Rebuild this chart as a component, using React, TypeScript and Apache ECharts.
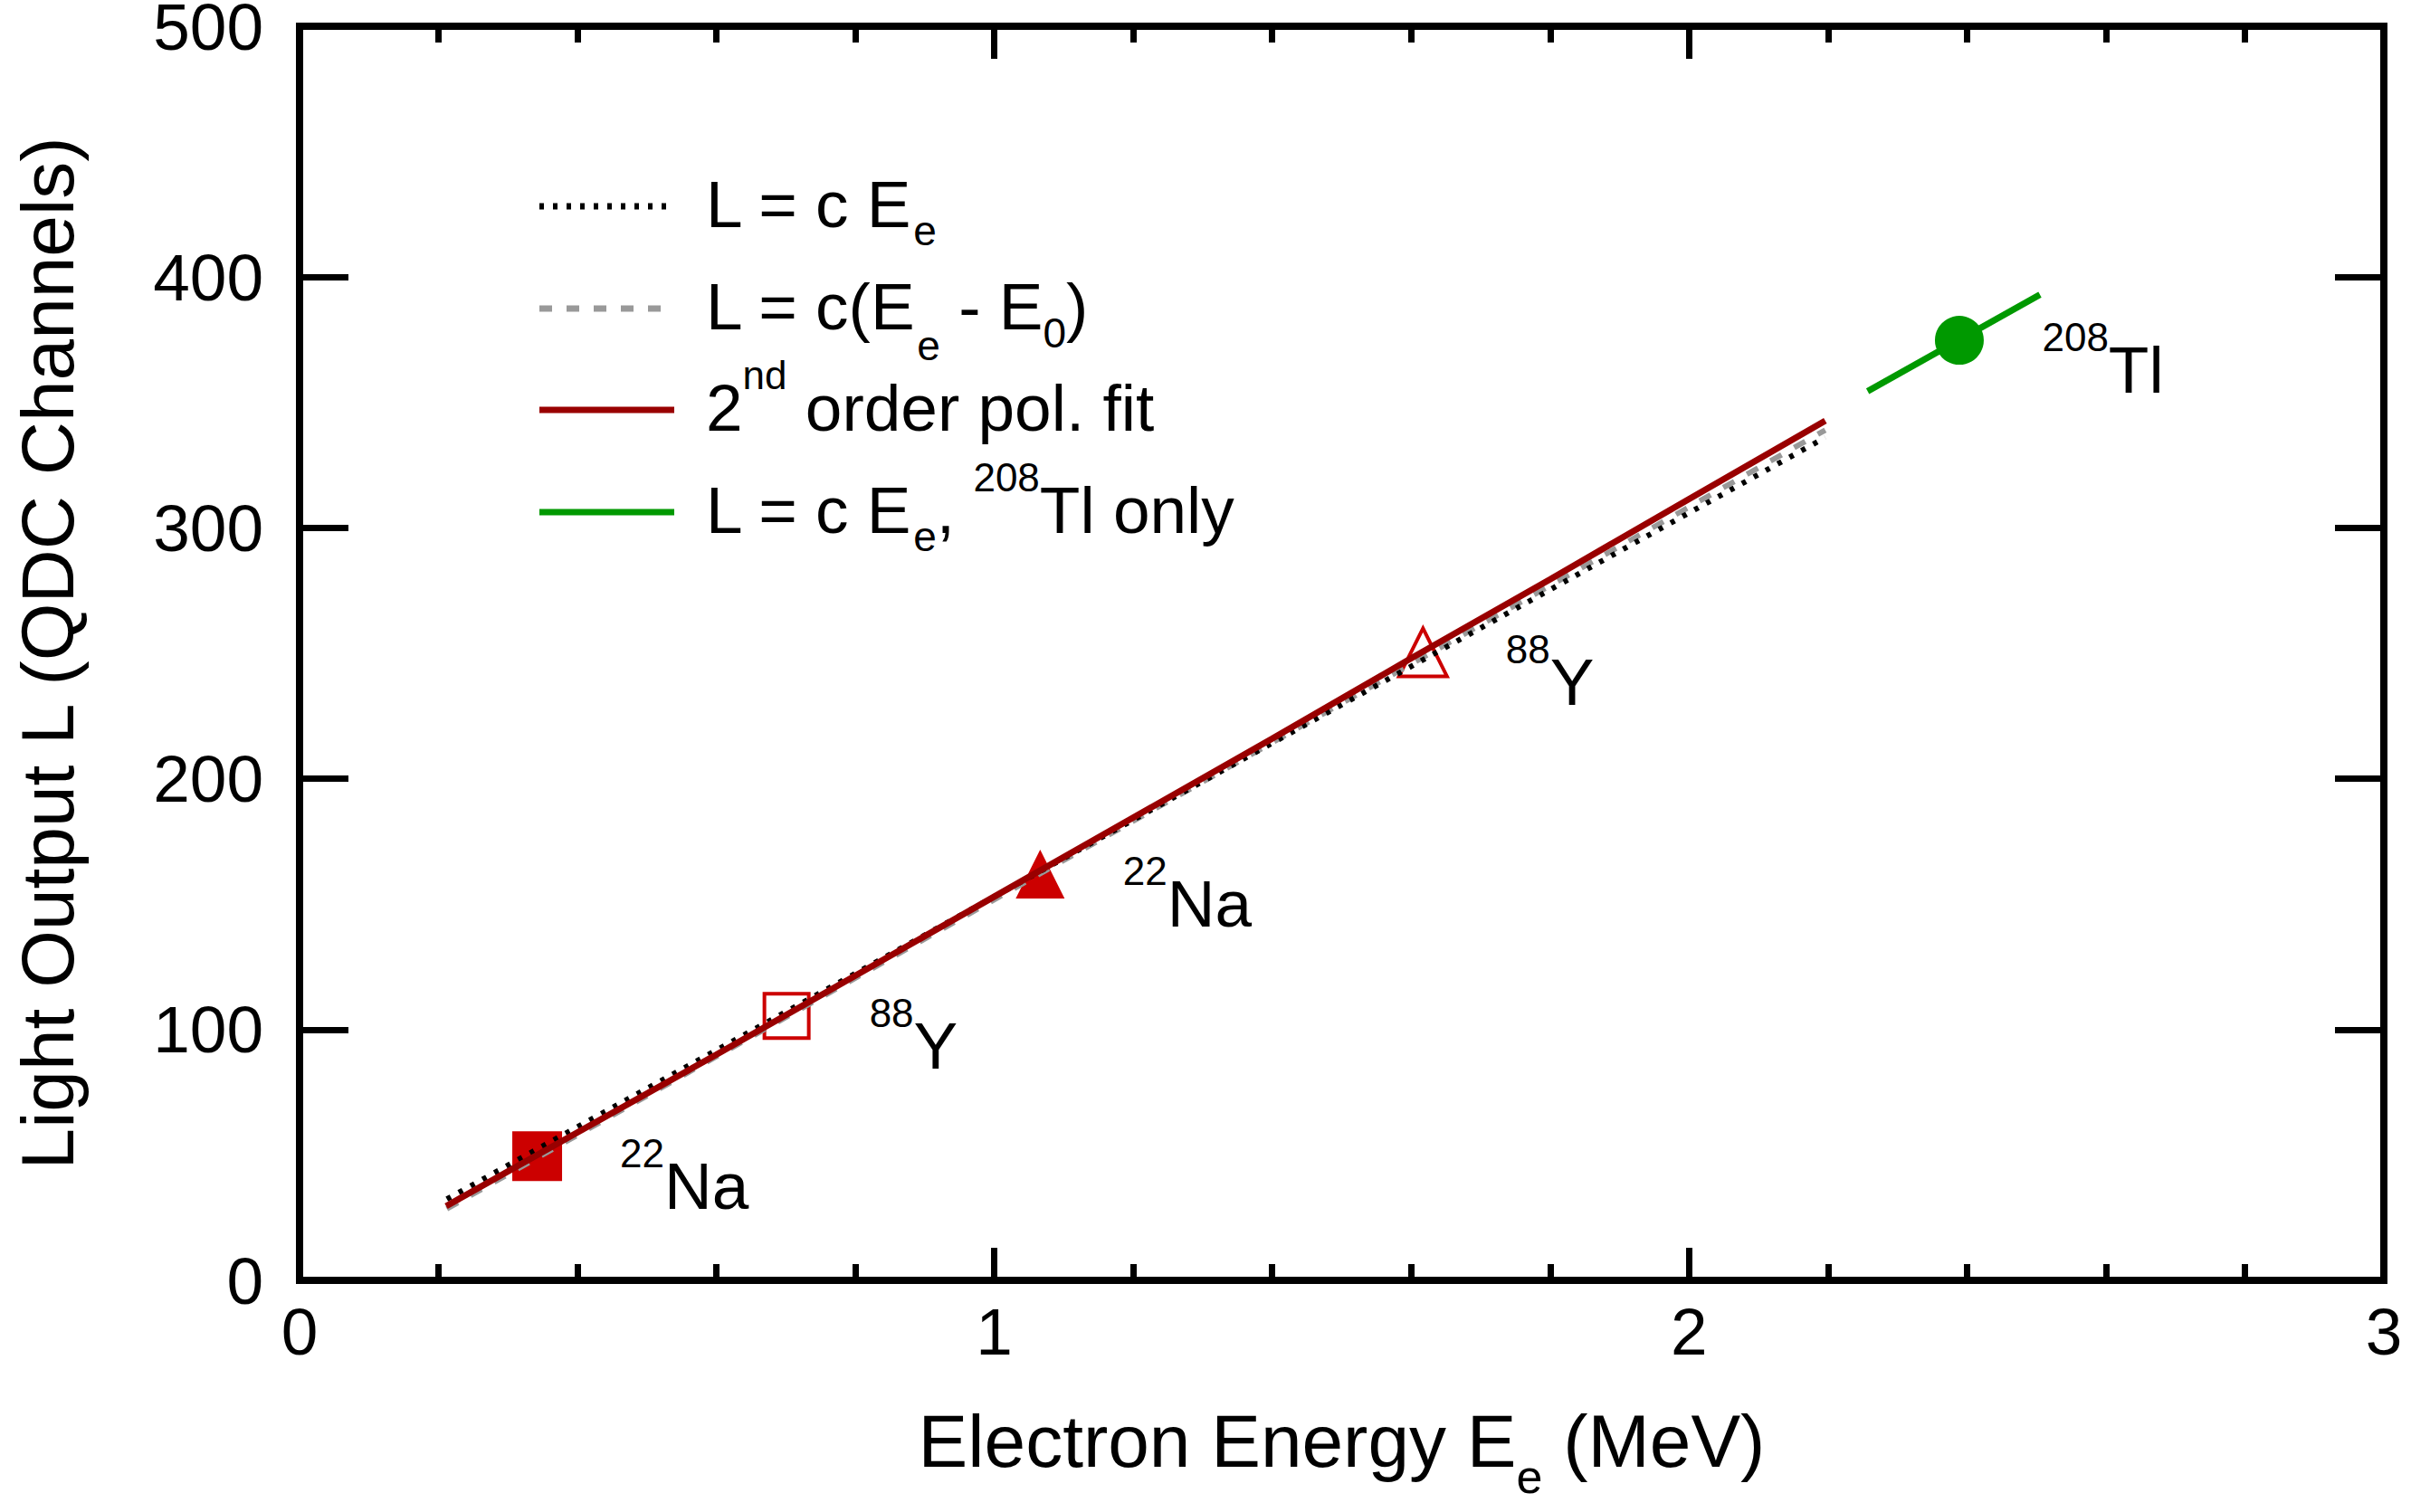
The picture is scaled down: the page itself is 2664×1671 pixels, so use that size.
import React, { useEffect, useRef } from 'react';
import * as echarts from 'echarts';

const FONT = '"Liberation Sans", Arial, Helvetica, sans-serif';

// ---- data ----
// L = c E_e (dotted black)
const dottedE = [0.212, 2.196];
const dottedL = [32.4, 336];
// L = c (E_e - E_0) (dashed grey)
const dashedE = [0.212, 2.196];
const dashedL = [28.5, 339];
// 2nd order polynomial fit (dark red)
const polE = [0.211, 0.4, 0.6, 0.8, 1.0, 1.2, 1.4, 1.6, 1.8, 2.0, 2.196];
const polL = [29.6, 59, 90, 121.5, 153, 184.5, 216, 248, 279.5, 311.5, 342.7];
// L = c E_e, 208Tl only (green)
const tlE = [2.257, 2.505];
const tlL = [354.5, 393];
// calibration points
const pointE = [0.342, 0.701, 1.066, 1.617, 2.389];
const pointL = [49.5, 105.4, 162, 250.4, 374.8];
const pointMass = ['22', '88', '22', '88', '208'];
const pointElement = ['Na', 'Y', 'Na', 'Y', 'Tl'];
// axes
const xTicks = [0, 1, 2, 3];
const yTicks = [0, 100, 200, 300, 400, 500];
// legend entries (rich text)
const legendNames = [
  '{m|L = c E}{sub|e}',
  '{m|L = c(E}{subL|e}{m| - E}{sub|0}{m|)}',
  '{m|2}{sup|nd}{m| order pol. fit}',
  '{m|L = c E}{sub|e}{m|, }{sup|208}{m|Tl only}',
];

const base = { fontFamily: FONT, color: '#000' };
const rich: any = {
  m: { ...base, fontSize: 73, lineHeight: 100 },
  sup: { ...base, fontSize: 44, lineHeight: 100, padding: [0, 0, 72, 0] },
  sub: { ...base, fontSize: 46, lineHeight: 100, padding: [60, 0, 0, 0] },
  subL: { ...base, fontSize: 46, lineHeight: 100, padding: [88, 0, 0, 0] },
  t: { ...base, fontSize: 82, lineHeight: 120 },
  ts: { ...base, fontSize: 52, lineHeight: 120, padding: [80, 0, 0, 0] },
};

const zip = (a: number[], b: number[]) => a.map((v, i) => [v, b[i]]);

export default function App() {
  const ref = useRef<HTMLDivElement>(null);
  useEffect(() => {
    document.body.style.margin = '0';
    const chart = echarts.init(ref.current!, null, { renderer: 'svg' });

    const tickStyle = { color: '#000', width: 7 };
    const xCommon: any = {
      type: 'value', min: xTicks[0], max: xTicks[xTicks.length - 1], interval: 1,
      axisLine: { show: false, onZero: false }, splitLine: { show: false },
      axisTick: { show: true, inside: true, length: 36, lineStyle: tickStyle },
      minorTick: { show: true, splitNumber: 5, length: 18, lineStyle: tickStyle },
      minorSplitLine: { show: false },
    };
    const yCommon: any = {
      type: 'value', min: yTicks[0], max: yTicks[yTicks.length - 1], interval: 100,
      axisLine: { show: false, onZero: false }, splitLine: { show: false },
      axisTick: { show: true, inside: true, length: 54, lineStyle: tickStyle },
    };

    const markerStyles = [
      { symbol: 'rect', symbolSize: 55, itemStyle: { color: '#cc0000', opacity: 1 } },
      { symbol: 'rect', symbolSize: 49, itemStyle: { color: 'rgba(0,0,0,0)', borderColor: '#cc0000', borderWidth: 4, opacity: 1 } },
      { symbol: 'triangle', symbolSize: 54, itemStyle: { color: '#cc0000', opacity: 1 } },
      { symbol: 'triangle', symbolSize: 53, itemStyle: { color: 'rgba(0,0,0,0)', borderColor: '#cc0000', borderWidth: 4, opacity: 1 } },
      { symbol: 'circle', symbolSize: 54, itemStyle: { color: '#009900', opacity: 1 } },
    ];

    const legendY = [228, 341, 453, 566];
    const legendLine = [
      { stroke: '#000', lineWidth: 7, lineDash: [5, 10] },
      { stroke: '#999999', lineWidth: 7, lineDash: [14, 16] },
      { stroke: '#990000', lineWidth: 7 },
      { stroke: '#009900', lineWidth: 7 },
    ];
    const graphic: any[] = [];
    legendNames.forEach((name, i) => {
      graphic.push({
        type: 'line', shape: { x1: 596, y1: legendY[i], x2: 745, y2: legendY[i] },
        style: { ...legendLine[i], lineCap: 'butt' }, z: 100,
      });
      graphic.push({
        type: 'text', x: 780, y: legendY[i] - 3, z: 100,
        style: { text: name, rich, align: 'left', verticalAlign: 'middle', fill: '#000' },
      });
    });

    const option: any = {
      animation: false,
      backgroundColor: '#fff',
      grid: {
        left: 331, right: 30, top: 29, bottom: 256,
        show: true, borderColor: '#000', borderWidth: 8, backgroundColor: 'rgba(0,0,0,0)',
        containLabel: false, outerBoundsMode: 'none',
      },
      xAxis: [
        {
          ...xCommon, position: 'bottom',
          axisLabel: { fontSize: 73, fontFamily: FONT, color: '#000', margin: 20 },
          name: '{t|Electron Energy E}{ts|e}{t| (MeV)}',
          nameLocation: 'middle', nameGap: 117,
          nameTextStyle: { rich },
        },
        { ...xCommon, position: 'top', axisLabel: { show: false } },
      ],
      yAxis: [
        {
          ...yCommon, position: 'left',
          axisLabel: { fontSize: 73, fontFamily: FONT, color: '#000', margin: 40, lineHeight: 56 },
          name: '{t|Light Output L (QDC Channels)}',
          nameLocation: 'middle', nameRotate: 90, nameGap: 219,
          nameTextStyle: { rich },
        },
        { ...yCommon, position: 'right', axisLabel: { show: false } },
      ],
      graphic,
      series: [
        {
          name: 'L = c Ee, 208Tl only', type: 'line', z: 1, symbol: 'none', silent: true,
          data: zip(tlE, tlL),
          lineStyle: { color: '#009900', width: 7, cap: 'butt' },
        },
        {
          name: 'points', type: 'scatter', z: 2, silent: true,
          data: pointE.map((e, i) => ({ value: [e, pointL[i]], ...markerStyles[i] })),
        },
        {
          name: 'L = c(Ee - E0)', type: 'line', z: 3, symbol: 'none', silent: true,
          data: zip(dashedE, dashedL),
          lineStyle: { color: '#999999', width: 6, type: [14, 16], cap: 'butt' },
        },
        {
          name: 'L = c Ee', type: 'line', z: 4, symbol: 'none', silent: true,
          data: zip(dottedE, dottedL),
          lineStyle: { color: '#000', width: 6, type: [5, 10], cap: 'butt' },
        },
        {
          name: '2nd order pol. fit', type: 'line', z: 5, symbol: 'none', silent: true,
          data: zip(polE, polL),
          lineStyle: { color: '#990000', width: 7, cap: 'butt' },
        },
        {
          name: 'labels', type: 'scatter', z: 10, symbolSize: 1, silent: true,
          itemStyle: { color: 'rgba(0,0,0,0)' },
          data: zip(pointE, pointL),
          label: {
            show: true, position: [92, -17], align: 'left', verticalAlign: 'top',
            color: '#000', opacity: 1,
            formatter: (p: any) => `{sup|${pointMass[p.dataIndex]}}{m|${pointElement[p.dataIndex]}}`,
            rich,
          },
        },
      ],
    };
    chart.setOption(option);
    return () => chart.dispose();
  }, []);
  return (
    <div
      ref={ref}
      style={{ position: 'absolute', left: 0, top: 0, width: 2664, height: 1671, background: '#fff' }}
    />
  );
}
